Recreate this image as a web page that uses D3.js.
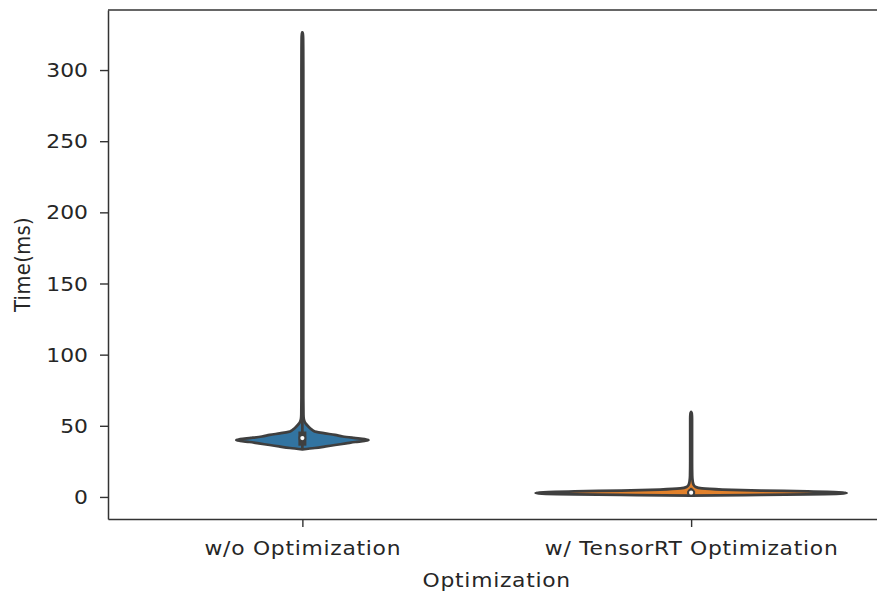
<!DOCTYPE html>
<html>
<head>
<meta charset="utf-8">
<script src="https://cdn.jsdelivr.net/npm/d3@7"></script>
<style>
  html, body { margin: 0; padding: 0; background: #ffffff; }
  svg { display: block; }
  text { font-family: "DejaVu Sans", sans-serif; fill: #262626; }
</style>
</head>
<body>
<svg id="chart" width="877" height="595"></svg>
<script>
// Inference time per configuration
const categories = ["w/o Optimization", "w/ TensorRT Optimization"];

// Kernel density profile (time in ms, relative density) for each configuration
const woTime    = [33.4, 34.4, 35.5, 36.5, 37.6, 38.6, 39.4, 40.0, 40.6, 41.5, 42.5, 43.6, 44.7, 45.7, 47.0, 48.5, 50.0, 51.5, 53.0, 55.0, 58.0, 70, 100, 150, 200, 250, 300, 322, 325.5, 326.5];
const woDensity = [0, 0.08, 0.15, 0.21, 0.28, 0.34, 0.40, 0.425, 0.40, 0.33, 0.26, 0.21, 0.145, 0.09, 0.065, 0.048, 0.034, 0.022, 0.014, 0.009, 0.007, 0.006, 0.006, 0.006, 0.006, 0.006, 0.006, 0.005, 0.003, 0];

const trtTime    = [0.9, 1.3, 1.8, 2.3, 2.8, 3.3, 3.9, 4.5, 5.2, 6.0, 7.0, 8.5, 11, 15, 25, 40, 55, 58.8, 59.7];
const trtDensity = [0, 0.35, 0.75, 0.96, 1.0, 0.95, 0.75, 0.45, 0.2, 0.07, 0.03, 0.016, 0.01, 0.007, 0.006, 0.006, 0.006, 0.004, 0];

// Box summaries drawn inside each violin
const medians   = [41.4, 3.0];
const quartiles = [[36.0, 46.0], [2.2, 3.9]];
const whiskers  = [[33.5, 55.0], [1.0, 6.4]];

const yTicks = [0, 50, 100, 150, 200, 250, 300];
const colors = ["#3274a1", "#e1812c"];
const gray = "#3f3f3f";

const profiles = [
  woTime.map((t, i) => ({ t, d: woDensity[i] })),
  trtTime.map((t, i) => ({ t, d: trtDensity[i] }))
];

// Layout
const plotLeft = 108, plotRight = 885.5, plotTop = 10, plotBottom = 519;
const sx = 1.12; // horizontal glyph stretch of the labels
const fontSize = 19.5;
const spacing = 0.65;

const svg = d3.select("#chart");

const x = d3.scalePoint().domain(categories).range([plotLeft, plotRight]).padding(0.5);
const y = d3.scaleLinear().domain([-15.5, 342.2]).range([plotBottom, plotTop]);
const halfMax = 0.4 * x.step();

// Violins
const area = d3.area()
  .y(d => y(d.t))
  .curve(d3.curveMonotoneY);

categories.forEach((c, i) => {
  const cx = x(c);
  svg.append("path")
    .datum(profiles[i])
    .attr("d", area.x0(d => cx - d.d * halfMax).x1(d => cx + d.d * halfMax))
    .attr("fill", colors[i])
    .attr("stroke", gray)
    .attr("stroke-width", 2.7)
    .attr("stroke-linejoin", "round");
});

// Inner boxes
categories.forEach((c, i) => {
  const cx = x(c);
  svg.append("line")
    .attr("x1", cx).attr("x2", cx)
    .attr("y1", y(whiskers[i][0])).attr("y2", y(whiskers[i][1]))
    .attr("stroke", gray).attr("stroke-width", 2.7);
  svg.append("line")
    .attr("x1", cx).attr("x2", cx)
    .attr("y1", y(quartiles[i][0])).attr("y2", y(quartiles[i][1]))
    .attr("stroke", gray).attr("stroke-width", 8);
  svg.append("circle")
    .attr("cx", cx).attr("cy", y(medians[i]))
    .attr("r", 3)
    .attr("fill", "#ffffff")
    .attr("stroke", gray).attr("stroke-width", 1.8);
});

// Axes
const yAxis = svg.append("g")
  .attr("transform", `translate(${plotLeft},0)`)
  .call(d3.axisLeft(y).tickValues(yTicks).tickSize(8).tickSizeOuter(0).tickPadding(0));
const xAxis = svg.append("g")
  .attr("transform", `translate(0,${plotBottom})`)
  .call(d3.axisBottom(x).tickSize(8).tickSizeOuter(0).tickPadding(0));

[yAxis, xAxis].forEach(g => {
  g.select(".domain").attr("stroke", "#333333").attr("stroke-width", 1.5);
  g.selectAll(".tick line").attr("stroke", "#333333").attr("stroke-width", 1.4);
  g.selectAll(".tick text")
    .attr("font-family", "DejaVu Sans")
    .attr("font-size", fontSize)
    .attr("fill", "#262626");
});

yAxis.selectAll(".tick text")
  .attr("x", null).attr("dy", null)
  .attr("text-anchor", "end")
  .attr("dominant-baseline", "central")
  .attr("transform", `translate(-20,0) scale(${sx},1)`);

xAxis.selectAll(".tick text")
  .attr("y", null).attr("dy", null)
  .attr("text-anchor", "middle")
  .attr("dominant-baseline", "central")
  .attr("letter-spacing", spacing)
  .attr("transform", `translate(0,29) scale(${sx},1)`);

// Top spine
svg.append("line")
  .attr("x1", plotLeft).attr("x2", plotRight)
  .attr("y1", plotTop).attr("y2", plotTop)
  .attr("stroke", "#333333").attr("stroke-width", 1.5);

// Axis titles
svg.append("text")
  .attr("transform", `translate(${(plotLeft + plotRight) / 2},580) scale(${sx},1)`)
  .attr("text-anchor", "middle")
  .attr("dominant-baseline", "central")
  .attr("font-size", fontSize)
  .attr("letter-spacing", spacing)
  .text("Optimization");

svg.append("text")
  .attr("transform", `translate(23,${(plotTop + plotBottom) / 2}) scale(${sx},1) rotate(-90)`)
  .attr("text-anchor", "middle")
  .attr("dominant-baseline", "central")
  .attr("font-size", fontSize)
  .attr("letter-spacing", 0.4)
  .text("Time(ms)");
</script>
</body>
</html>
